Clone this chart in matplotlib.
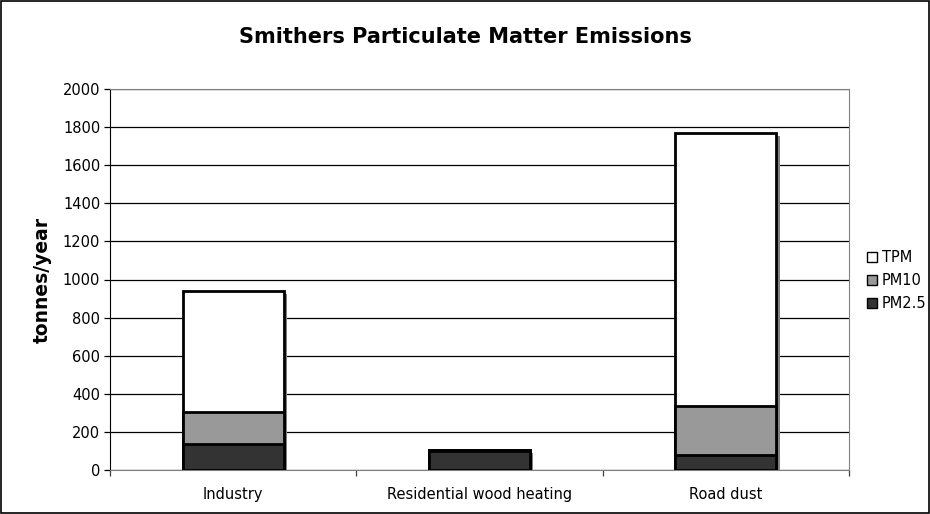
import numpy as np
import matplotlib.pyplot as plt
from matplotlib.patches import Rectangle

categories = ['Industry', 'Residential wood heating', 'Road dust']
tpm = [940, 103, 1767]
pm10 = [303, 103, 336]
pm25 = [136, 100, 79]
series = [('TPM', tpm, '#ffffff'), ('PM10', pm10, '#999999'), ('PM2.5', pm25, '#333333')]

plt.rcParams['font.family'] = ['Verdana', 'DejaVu Sans']

fig = plt.figure(figsize=(9.3, 5.14), dpi=100)
fig.patches.append(Rectangle((0.001, 0.001), 0.998, 0.997, transform=fig.transFigure,
                             fill=False, edgecolor='black', linewidth=1.2))
ax = fig.add_axes([110 / 930, 1 - 470 / 514, (849 - 110) / 930, (470 - 89) / 514])

x = np.arange(len(categories))
width = 0.41
# gray drop shadow behind the tallest bar of each group
ax.bar(x + 0.014, tpm, width, bottom=-16, color='#808080', linewidth=0, zorder=2)
for name, vals, col in series:
    ax.bar(x, vals, width, color=col, edgecolor='black', linewidth=2, label=name, zorder=3)

ax.set_xlim(-0.5, 2.5)
ax.set_ylim(0, 2000)
ax.set_yticks(range(0, 2001, 200))
ax.yaxis.grid(True, color='black', linewidth=0.9)
ax.set_axisbelow(True)
ax.set_xticks(x)
ax.set_xticks([-0.5, 0.5, 1.5, 2.5], minor=True)
ax.set_xticklabels(categories, fontsize=10.5)
ax.tick_params(axis='x', which='major', length=0, pad=12)
ax.tick_params(axis='x', which='minor', length=4, width=0.9, color='#404040')
ax.tick_params(axis='y', labelsize=10.5, direction='out', length=4, width=0.9, pad=3)
for side in ['top', 'right', 'bottom']:
    ax.spines[side].set_color('#808080')
ax.spines['left'].set_color('black')
ax.set_ylabel('tonnes/year', fontsize=13.5, fontweight='bold', labelpad=8)

fig.suptitle('Smithers Particulate Matter Emissions', fontsize=15, fontweight='bold', y=0.947)

leg = ax.legend(loc='center left', bbox_to_anchor=(1.0, 0.497), frameon=False, fontsize=10.5,
                handlelength=0.75, handleheight=0.75, handletextpad=0.3, labelspacing=0.55,
                borderaxespad=0.8)
for h in leg.legend_handles:
    h.set_linewidth(1)

fig.savefig('out.png', dpi=100)
